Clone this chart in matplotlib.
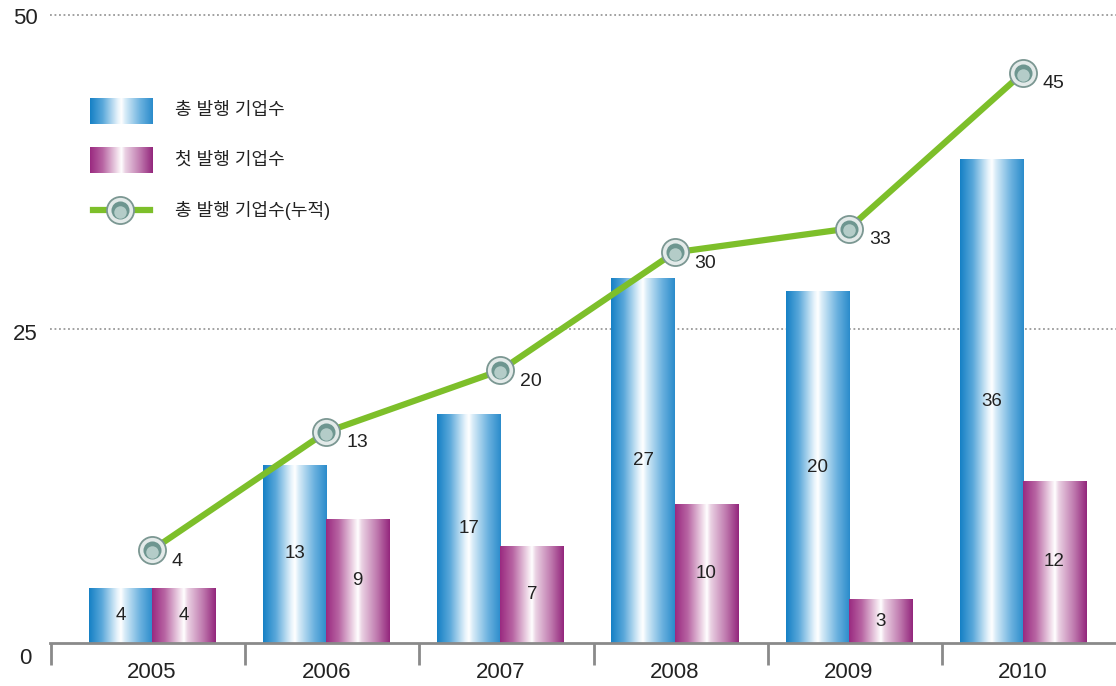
import numpy as np
import matplotlib
matplotlib.use('Agg')
import matplotlib.pyplot as plt
from matplotlib.colors import LinearSegmentedColormap
from matplotlib.lines import Line2D

plt.rcParams['font.family'] = ['Liberation Sans', 'Noto Sans CJK KR']

# data (bar heights as drawn on the chart, labels as printed)
years = ['2005', '2006', '2007', '2008', '2009', '2010']
total_h = [4.4, 14.2, 18.2, 29.1, 28.0, 38.5]
total_lbl = ['4', '13', '17', '27', '20', '36']
first_h = [4.4, 9.9, 7.7, 11.1, 3.5, 12.9]
first_lbl = ['4', '9', '7', '10', '3', '12']
cum_h = [7.4, 16.8, 21.7, 31.1, 33.0, 45.4]
cum_lbl = ['4', '13', '20', '30', '33', '45']
legend_names = ['총 발행 기업수', '첫 발행 기업수', '총 발행 기업수(누적)']

blue_cm = LinearSegmentedColormap.from_list('b', [
    (0, '#1580c5'), (0.2, '#5aa8da'), (0.44, '#e6f3fb'), (0.5, '#ffffff'),
    (0.56, '#d8ecf8'), (0.8, '#6cb2df'), (1, '#2a8bcb')])
purple_cm = LinearSegmentedColormap.from_list('p', [
    (0, '#9a2a80'), (0.2, '#b865a3'), (0.44, '#f2e0ec'), (0.5, '#ffffff'),
    (0.56, '#ead1e3'), (0.8, '#bf79ae'), (1, '#93267c')])
grad = np.linspace(0, 1, 256).reshape(1, -1)

W, H = 1116, 686
fig = plt.figure(figsize=(W / 100, H / 100), dpi=100)
ax = fig.add_axes([50 / W, 43 / H, 1 - 50 / W, 628 / H])

x = np.arange(len(years))
bw = 0.362
xlim = (-0.585, 5.534)

def grad_bars(xs, hs, cmap):
    bars = ax.bar(xs, hs, bw, facecolor='none', edgecolor='none', zorder=2)
    for b in bars:
        x0, y0 = b.get_x(), b.get_y()
        im = ax.imshow(grad, cmap=cmap, aspect='auto', zorder=2,
                       extent=[x0, x0 + b.get_width(), y0, y0 + b.get_height()])
        im.set_clip_path(b)
    return bars

grad_bars(x - bw / 2, total_h, blue_cm)
grad_bars(x + bw / 2, first_h, purple_cm)

for i in range(len(years)):
    ax.text(x[i] - bw / 2, total_h[i] / 2, total_lbl[i], ha='center', va='center',
            fontsize=13.5, color='#222222', zorder=3)
    ax.text(x[i] + bw / 2, first_h[i] / 2, first_lbl[i], ha='center', va='center',
            fontsize=13.5, color='#222222', zorder=3)

# cumulative line, markers = light ring + teal centre
ax.plot(x, cum_h, color='#7dbf2a', lw=4.5, zorder=4, solid_capstyle='butt')
ax.plot(x, cum_h, 'o', ms=19.5, mfc='#e3eae9', mec='#7b9792', mew=1.3, zorder=5)
ax.plot(x, cum_h, 'o', ms=13, mfc='#6e9690', mec='none', zorder=6)
ax.plot(x, np.array(cum_h) - 0.15, 'o', ms=9, mfc='#b4ccc8', mec='none', zorder=6)
for i in range(len(years)):
    ax.annotate(cum_lbl[i], (x[i], cum_h[i]), xytext=(20, -11), textcoords='offset pixels',
                ha='left', va='center', fontsize=14, color='#222222', zorder=7)

# grid lines
for v in [25, 50]:
    ax.axhline(v, color='#9a9a9a', lw=1.3, ls=(0, (1, 1.5)), zorder=1, clip_on=False)

ax.set_xlim(*xlim)
ax.set_ylim(0, 50)
for s in ['top', 'right', 'left']:
    ax.spines[s].set_visible(False)
ax.spines['bottom'].set_color('#8a8a8a')
ax.spines['bottom'].set_linewidth(2)
ax.set_yticks([])

ax.set_xticks(x)
ax.set_xticklabels(years, fontsize=16, color='#222222')
ax.tick_params(axis='x', which='major', length=0, pad=14)
ax.set_xticks([xlim[0] + 0.003] + list(x[:-1] + 0.535), minor=True)
ax.tick_params(axis='x', which='minor', length=16, width=2, color='#8a8a8a')

# y labels
for v, dy in [(0, -15), (25, -6), (50, -4)]:
    ax.annotate(str(v), (0, v), xycoords=ax.get_yaxis_transform(), xytext=(-25, dy),
                textcoords='offset pixels', ha='center', va='center', fontsize=16,
                color='#222222', annotation_clip=False)

# legend
for cm, top in [(blue_cm, 98), (purple_cm, 147)]:
    lax = fig.add_axes([90 / W, (H - top - 26) / H, 63 / W, 26 / H])
    lax.imshow(grad, cmap=cm, aspect='auto')
    lax.axis('off')
ly = (H - 210) / H
fig.add_artist(Line2D([93 / W, 150 / W], [ly, ly], color='#7dbf2a', lw=4.5))
fig.add_artist(Line2D([120 / W], [ly], marker='o', ms=19.5, mfc='#e3eae9', mec='#7b9792', mew=1.3))
fig.add_artist(Line2D([120 / W], [ly], marker='o', ms=13, mfc='#6e9690', mec='none'))
fig.add_artist(Line2D([120 / W], [ly - 2 / H], marker='o', ms=9, mfc='#b4ccc8', mec='none'))
for name, yy in zip(legend_names, [111, 160, 210]):
    fig.text(175 / W, (H - yy) / H, name, ha='left', va='center', fontsize=13, color='#222222')

fig.savefig('out.png', dpi=100)
